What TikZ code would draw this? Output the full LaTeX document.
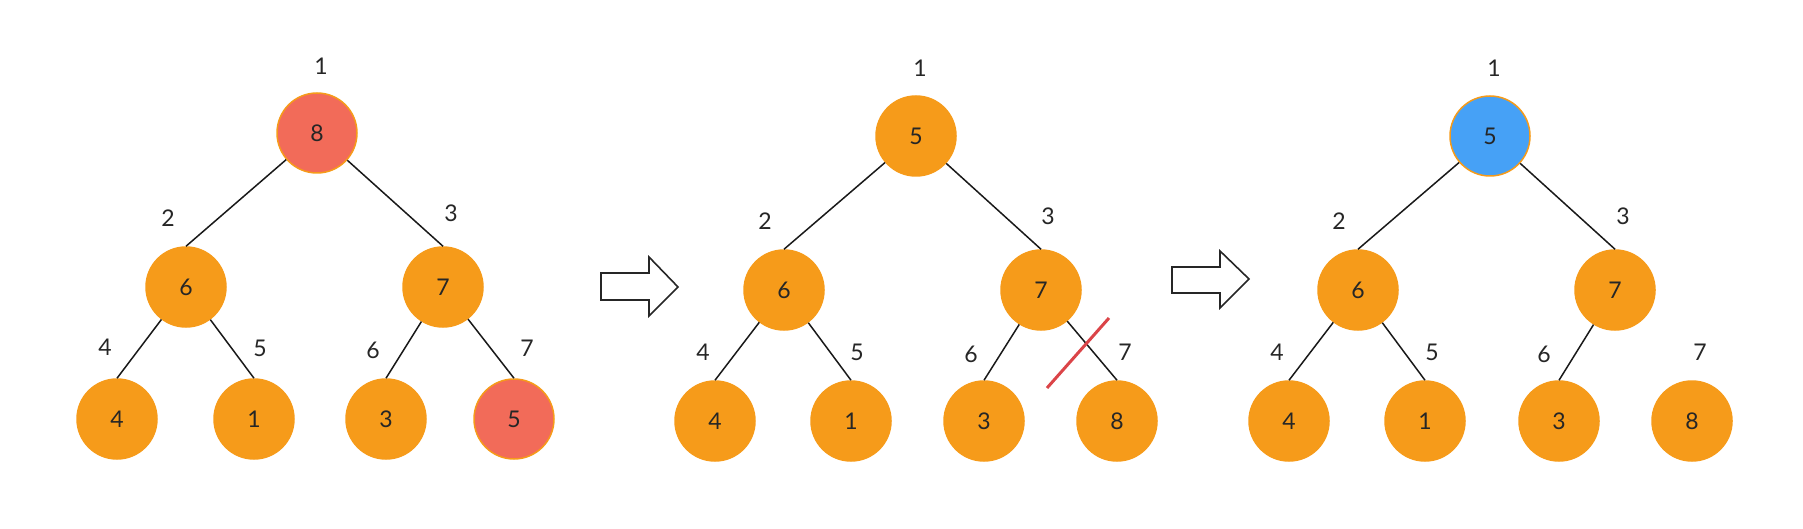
\documentclass[tikz,border=0pt]{standalone}
\usepackage{fontspec}
\setmainfont{Lato}
\begin{document}
\begin{tikzpicture}[x=1pt,y=-1pt,
  nd/.style={circle,minimum size=80pt,inner sep=0pt,fill=orangec,draw=orangec,line width=1.5pt,font=\fontsize{23}{26}\selectfont,text=black!85},
  hot/.style={nd,fill=redc},
  cool/.style={nd,fill=bluec},
  lbl/.style={font=\fontsize{23}{26}\selectfont,text=black!85,inner sep=0pt},
  edge/.style={line width=1.5pt,black!90},
  bigarrow/.style={draw=black!85,line width=1.6pt,fill=white,line join=miter}]
\definecolor{orangec}{HTML}{F69B1A}
\definecolor{redc}{HTML}{F26B59}
\definecolor{bluec}{HTML}{46A1F6}
\definecolor{crossc}{HTML}{DB4448}
\useasboundingbox (0,0) rectangle (1803,529);
% ---- tree 1
\node[hot] (a1) at (317,133) {8};
\node[nd] (a2) at (186,287) {6};
\node[nd] (a3) at (443,287) {7};
\node[nd] (a4) at (117,419) {4};
\node[nd] (a5) at (254,419) {1};
\node[nd] (a6) at (386,419) {3};
\node[hot] (a7) at (514,419) {5};
\draw[edge] (a1)--(a2.north); \draw[edge] (a1)--(a3.north);
\draw[edge] (a2)--(a4.north); \draw[edge] (a2)--(a5.north);
\draw[edge] (a3)--(a6.north); \draw[edge] (a3)--(a7.north);
\node[lbl] (la1) at (321,66) {1};
\node[lbl] (la2) at (168,218) {2};
\node[lbl] (la3) at (451,213) {3};
\node[lbl] (la4) at (105,347) {4};
\node[lbl] (la5) at (260,348) {5};
\node[lbl] (la6) at (373,350) {6};
\node[lbl] (la7) at (527,348) {7};
% ---- arrow 1
\draw[bigarrow] (601,273) -- (649,273) -- (649,257) -- (678,287) -- (649,316) -- (649,300) -- (601,300) -- cycle;
% ---- tree 2
\node[nd] (b1) at (916,136) {5};
\node[nd] (b2) at (784,290) {6};
\node[nd] (b3) at (1041,290) {7};
\node[nd] (b4) at (715,421) {4};
\node[nd] (b5) at (851,421) {1};
\node[nd] (b6) at (984,421) {3};
\node[nd] (b7) at (1117,421) {8};
\draw[edge] (b1)--(b2.north); \draw[edge] (b1)--(b3.north);
\draw[edge] (b2)--(b4.north); \draw[edge] (b2)--(b5.north);
\draw[edge] (b3)--(b6.north); \draw[edge] (b3)--(b7.north);
\coordinate (x1) at (1047,388);
\coordinate (x2) at (1109,318);
\draw[crossc,line width=3pt] (x1) -- (x2);
\node[lbl] (lb1) at (920,68) {1};
\node[lbl] (lb2) at (765,221) {2};
\node[lbl] (lb3) at (1048,216) {3};
\node[lbl] (lb4) at (703,352) {4};
\node[lbl] (lb5) at (857,352) {5};
\node[lbl] (lb6) at (971,354) {6};
\node[lbl] (lb7) at (1125,352) {7};
% ---- arrow 2
\draw[bigarrow] (1172,267) -- (1220,267) -- (1220,251) -- (1249,279) -- (1220,308) -- (1220,293) -- (1172,293) -- cycle;
% ---- tree 3
\node[cool] (c1) at (1490,136) {5};
\node[nd] (c2) at (1358,290) {6};
\node[nd] (c3) at (1615,290) {7};
\node[nd] (c4) at (1289,421) {4};
\node[nd] (c5) at (1425,421) {1};
\node[nd] (c6) at (1559,421) {3};
\node[nd] (c7) at (1692,421) {8};
\draw[edge] (c1)--(c2.north); \draw[edge] (c1)--(c3.north);
\draw[edge] (c2)--(c4.north); \draw[edge] (c2)--(c5.north);
\draw[edge] (c3)--(c6.north);
\node[lbl] (lc1) at (1494,68) {1};
\node[lbl] (lc2) at (1339,221) {2};
\node[lbl] (lc3) at (1623,216) {3};
\node[lbl] (lc4) at (1277,352) {4};
\node[lbl] (lc5) at (1432,352) {5};
\node[lbl] (lc6) at (1544,354) {6};
\node[lbl] (lc7) at (1700,352) {7};
\end{tikzpicture}
\end{document}
